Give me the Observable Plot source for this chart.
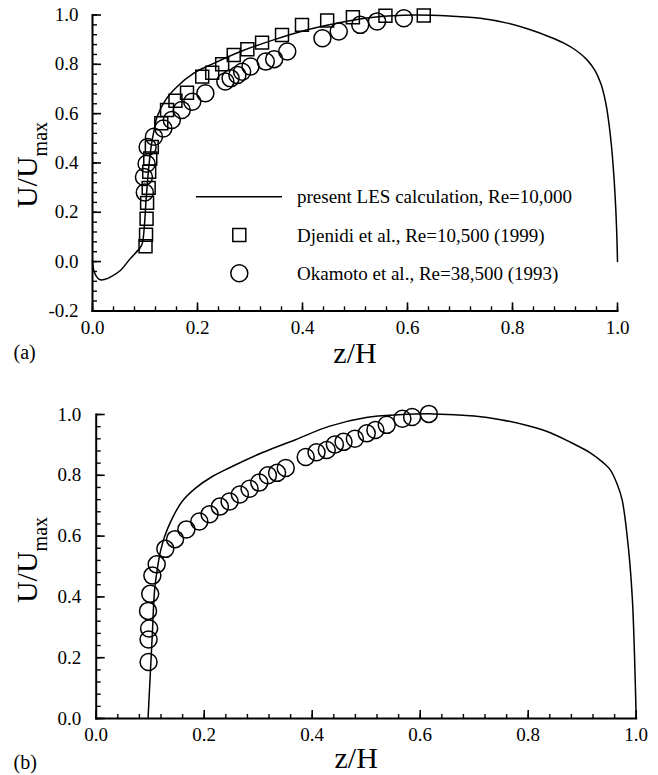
<!DOCTYPE html>
<html><head><meta charset="utf-8">
<script src="https://cdn.jsdelivr.net/npm/d3@7"></script>
<script src="https://cdn.jsdelivr.net/npm/@observablehq/plot@0.6"></script>
<style>
body{margin:0;background:#fff;}
#wrap{width:658px;height:775px;background:#fff;}
#wrap svg{display:block;}
</style></head><body><div id="wrap"></div>
<script>
// ---------- data ----------
// Panel (a): present LES calculation
const lesA_z = [0, 0.0025, 0.009, 0.015, 0.025, 0.034, 0.053, 0.072, 0.091, 0.095, 0.099, 0.102, 0.105, 0.108, 0.112, 0.117, 0.123, 0.139, 0.161, 0.193, 0.231, 0.282, 0.345, 0.409, 0.472, 0.536, 0.612, 0.68, 0.739, 0.79, 0.834, 0.87, 0.898, 0.922, 0.942, 0.957, 0.968, 0.975, 0.980, 0.988, 0.993, 0.997, 0.999, 1.0];
const lesA_u = [0.005, -0.036, -0.065, -0.074, -0.071, -0.063, -0.036, 0.012, 0.057, 0.075, 0.15, 0.25, 0.33, 0.40, 0.47, 0.53, 0.587, 0.655, 0.709, 0.764, 0.804, 0.852, 0.899, 0.940, 0.970, 0.991, 1.0, 0.996, 0.987, 0.967, 0.94, 0.912, 0.886, 0.855, 0.818, 0.775, 0.723, 0.67, 0.615, 0.48, 0.35, 0.2, 0.086, 0.0];
// Panel (a): Djenidi et al.
const djenidi_z = [0.101, 0.102, 0.103, 0.104, 0.107, 0.108, 0.110, 0.113, 0.131, 0.142, 0.158, 0.180, 0.209, 0.228, 0.247, 0.269, 0.295, 0.323, 0.361, 0.399, 0.447, 0.496, 0.558, 0.631];
const djenidi_u = [0.062, 0.109, 0.174, 0.238, 0.299, 0.364, 0.418, 0.465, 0.561, 0.615, 0.652, 0.685, 0.750, 0.766, 0.800, 0.838, 0.861, 0.888, 0.919, 0.960, 0.978, 0.991, 0.997, 0.998];
// Panel (a): Okamoto et al.
const okamotoA_z = [0.0996, 0.098, 0.103, 0.105, 0.117, 0.135, 0.151, 0.170, 0.190, 0.215, 0.253, 0.263, 0.276, 0.285, 0.301, 0.330, 0.346, 0.371, 0.438, 0.469, 0.510, 0.542, 0.593];
const okamotoA_u = [0.280, 0.343, 0.397, 0.465, 0.506, 0.540, 0.574, 0.615, 0.648, 0.683, 0.730, 0.743, 0.757, 0.770, 0.791, 0.811, 0.821, 0.852, 0.906, 0.933, 0.960, 0.974, 0.987];
// Panel (b): present LES calculation
const lesB_z = [0.096, 0.100, 0.104, 0.108, 0.113, 0.119, 0.127, 0.141, 0.159, 0.184, 0.215, 0.246, 0.307, 0.369, 0.431, 0.50, 0.56, 0.625, 0.70, 0.749, 0.80, 0.841, 0.88, 0.915, 0.94, 0.952, 0.965, 0.974, 0.986, 0.993, 0.997, 1.0];
const lesB_u = [0, 0.14, 0.28, 0.42, 0.49, 0.55, 0.60, 0.659, 0.714, 0.758, 0.796, 0.824, 0.874, 0.917, 0.961, 0.99, 0.999, 1.002, 0.995, 0.983, 0.963, 0.94, 0.907, 0.874, 0.84, 0.818, 0.77, 0.719, 0.554, 0.389, 0.2, 0];
// Panel (b): Okamoto et al.
const okamotoB_z = [0.097, 0.097, 0.098, 0.096, 0.100, 0.104, 0.112, 0.128, 0.146, 0.167, 0.191, 0.210, 0.229, 0.247, 0.266, 0.284, 0.302, 0.318, 0.335, 0.351, 0.388, 0.408, 0.427, 0.442, 0.458, 0.479, 0.501, 0.517, 0.538, 0.567, 0.585, 0.616];
const okamotoB_u = [0.186, 0.260, 0.296, 0.354, 0.410, 0.470, 0.507, 0.558, 0.590, 0.622, 0.648, 0.672, 0.697, 0.714, 0.737, 0.756, 0.776, 0.800, 0.808, 0.824, 0.860, 0.876, 0.883, 0.901, 0.910, 0.920, 0.938, 0.949, 0.966, 0.986, 0.992, 1.002];

// ticks
const xMajor = [0, 0.2, 0.4, 0.6, 0.8, 1.0];
const yMajorA = [-0.2, 0, 0.2, 0.4, 0.6, 0.8, 1.0];
const yMajorB = [0, 0.2, 0.4, 0.6, 0.8, 1.0];
const minorStep = 0.04;

// text
const legendLabels = ["present LES calculation, Re=10,000", "Djenidi et al., Re=10,500 (1999)", "Okamoto et al., Re=38,500 (1993)"];
const xLabel = "z/H";
const yLabelMain = "U/U";
const yLabelSub = "max";
const panelLabels = ["(a)", "(b)"];

// ---------- helpers ----------
const FONT = "'Liberation Serif', 'Times New Roman', serif";
const fmt = d => d.toFixed(1);
const rows = (zs, us) => zs.map((z, i) => ({z, u: us[i]}));
const minorTicks = (lo, hi) => d3.range(Math.round(lo / minorStep), Math.round(hi / minorStep) + 1).map(k => +(k * minorStep).toFixed(2));
// inward tick glyphs (fixed pixel length) used as dot symbols
const tickUp = len => ({draw(ctx) { ctx.moveTo(0, 0); ctx.lineTo(0, -len); }});
const tickRight = len => ({draw(ctx) { ctx.moveTo(0, 0); ctx.lineTo(len, 0); }});

function axisMarks(xMaj, yMaj, yLo, xPad, yPad) {
  const xMin = minorTicks(0, 1), yMin = minorTicks(yLo, 1);
  const MJ = 8.5, MN = 4.5;
  const tk = (data, opts) => Plot.dot(data, {r: 4, fill: "none", stroke: "black", ...opts});
  return [
    Plot.line([0, 1], {x: d => d, y: () => yLo, stroke: "black", strokeWidth: 2, strokeLinecap: "square"}),
    Plot.line([yLo, 1], {x: () => 0, y: d => d, stroke: "black", strokeWidth: 2, strokeLinecap: "square"}),
    tk(xMin, {x: d => d, y: () => yLo, symbol: tickUp(MN), strokeWidth: 1.4}),
    tk(xMaj, {x: d => d, y: () => yLo, symbol: tickUp(MJ), strokeWidth: 1.6}),
    tk(yMin, {x: () => 0, y: d => d, symbol: tickRight(MN), strokeWidth: 1.4}),
    tk(yMaj, {x: () => 0, y: d => d, symbol: tickRight(MJ), strokeWidth: 1.6}),
    Plot.axisX({ticks: xMaj, tickSize: 0, tickPadding: xPad, tickFormat: fmt, label: null, fill: "black"}),
    Plot.axisY({ticks: yMaj, tickSize: 0, tickPadding: yPad, tickFormat: fmt, label: null, fill: "black"})
  ];
}

function addYLabel(svg, x, yc) {
  const t = d3.select(svg).append("text")
    .attr("transform", `translate(${x},${yc}) rotate(-90)`)
    .attr("text-anchor", "middle")
    .attr("font-family", FONT)
    .attr("font-size", 30)
    .attr("fill", "black");
  t.append("tspan").text(yLabelMain);
  t.append("tspan").attr("font-size", 20).attr("dy", 10).text(yLabelSub);
}

const wrap = document.getElementById("wrap");
const plotStyle = {fontFamily: FONT, fontSize: "19px", color: "black", background: "white", overflow: "visible"};

// ---------- panel (a) ----------
const plotA = Plot.plot({
  width: 658, height: 380,
  marginLeft: 92, marginRight: 41, marginTop: 14.5, marginBottom: 69.6,
  x: {domain: [0, 1]},
  y: {domain: [-0.2, 1]},
  style: plotStyle,
  marks: [
    ...axisMarks(xMajor, yMajorA, -0.2, 10, 14),
    Plot.line(rows(lesA_z, lesA_u), {x: "z", y: "u", curve: "catmull-rom", stroke: "black", strokeWidth: 1.5}),
    Plot.dot(rows(djenidi_z, djenidi_u), {x: "z", y: "u", symbol: "square", r: 7.3, stroke: "black", strokeWidth: 1.5, fill: "none"}),
    Plot.dot(rows(okamotoA_z, okamotoA_u), {x: "z", y: "u", symbol: "circle", r: 8.5, stroke: "black", strokeWidth: 1.5, fill: "none"}),
    Plot.text([xLabel], {text: d => d, frameAnchor: "bottom", lineAnchor: "bottom", dy: 52, fontSize: 30, fill: "black"}),
    Plot.text([panelLabels[0]], {text: d => d, frameAnchor: "bottom-left", textAnchor: "start", lineAnchor: "bottom", dx: -79, dy: 47.6, fontSize: 20, fill: "black"})
  ]
});
wrap.appendChild(plotA);
addYLabel(plotA, 37, 165);

// legend (panel a)
{
  const g = d3.select(plotA).append("g").attr("font-family", FONT).attr("font-size", 19).attr("fill", "black").attr("text-anchor", "start");
  const ys = [196.7, 235, 273.3];
  g.append("line").attr("x1", 196).attr("x2", 282).attr("y1", ys[0]).attr("y2", ys[0]).attr("stroke", "black").attr("stroke-width", 1.5);
  g.append("rect").attr("x", 239.3 - 6.5).attr("y", ys[1] - 6.5).attr("width", 13).attr("height", 13).attr("fill", "none").attr("stroke", "black").attr("stroke-width", 1.5);
  g.append("circle").attr("cx", 239.3).attr("cy", ys[2]).attr("r", 8.5).attr("fill", "none").attr("stroke", "black").attr("stroke-width", 1.5);
  legendLabels.forEach((s, i) => g.append("text").attr("x", 297).attr("y", ys[i]).attr("dy", "0.35em").attr("text-anchor", "start").text(s));
}

// ---------- panel (b) ----------
const plotB = Plot.plot({
  width: 658, height: 395,
  marginLeft: 95.7, marginRight: 22.3, marginTop: 34, marginBottom: 57,
  x: {domain: [0, 1]},
  y: {domain: [0, 1]},
  style: plotStyle,
  marks: [
    ...axisMarks(xMajor, yMajorB, 0, 9, 15),
    Plot.line(rows(lesB_z, lesB_u), {x: "z", y: "u", curve: "catmull-rom", stroke: "black", strokeWidth: 1.5}),
    Plot.dot(rows(okamotoB_z, okamotoB_u), {x: "z", y: "u", symbol: "circle", r: 8.5, stroke: "black", strokeWidth: 1.5, fill: "none"}),
    Plot.text([xLabel], {text: d => d, frameAnchor: "bottom", lineAnchor: "bottom", dx: -10, dy: 49, fontSize: 30, fill: "black"}),
    Plot.text([panelLabels[1]], {text: d => d, frameAnchor: "bottom-left", textAnchor: "start", lineAnchor: "bottom", dx: -82.7, dy: 50, fontSize: 20, fill: "black"})
  ]
});
wrap.appendChild(plotB);
addYLabel(plotB, 37, 180);
</script></body></html>
